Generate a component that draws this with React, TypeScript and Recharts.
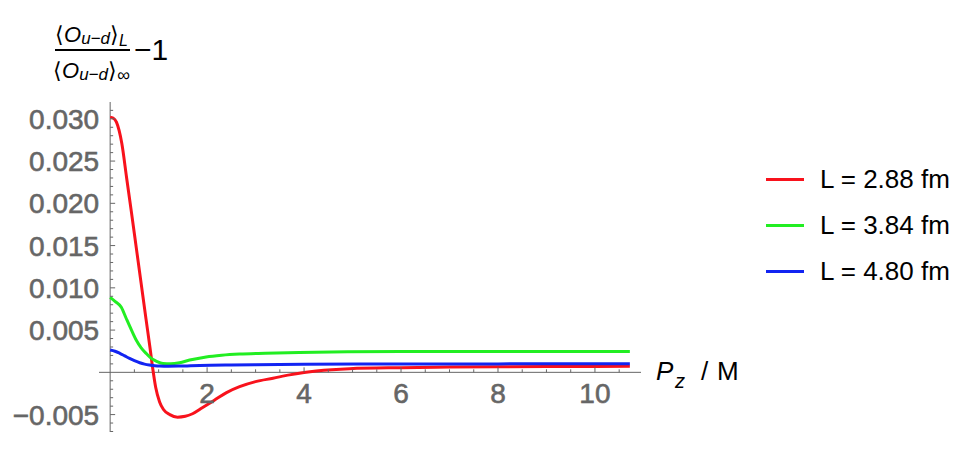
import React from 'react';
import { LineChart, Line, XAxis, YAxis, ReferenceLine } from 'recharts';

// P_z / M sample points and the ratio - 1 for each lattice size
const redPz = [0, 0.06, 0.13, 0.24, 0.34, 0.44, 0.54, 0.64, 0.74, 0.82, 0.88, 0.94, 1.02, 1.1, 1.23, 1.39, 1.55, 1.7, 1.9, 2.15, 2.4, 2.67, 3.0, 3.36, 3.7, 4.0, 4.25, 4.94, 6, 7, 8, 9, 10, 10.72];
const redVal = [0.0302, 0.0301, 0.0296, 0.0271, 0.023, 0.0189, 0.0147, 0.0105, 0.0063, 0.003, 0.0004, -0.0018, -0.0035, -0.0044, -0.005, -0.0053, -0.0052, -0.0049, -0.0042, -0.0033, -0.0024, -0.0017, -0.0011, -0.0007, -0.0003, -0.00003, 0.00015, 0.00043, 0.00055, 0.00062, 0.00066, 0.00068, 0.0007, 0.00071];

const greenPz = [0, 0.1, 0.23, 0.33, 0.44, 0.54, 0.64, 0.75, 0.85, 0.95, 1.09, 1.25, 1.43, 1.64, 1.98, 2.3, 2.67, 3.2, 3.9, 4.9, 6, 8, 10.72];
const greenVal = [0.00887, 0.0084, 0.0077, 0.0064, 0.005, 0.0038, 0.0029, 0.0022, 0.00165, 0.00133, 0.00104, 0.00102, 0.00114, 0.00145, 0.00182, 0.00202, 0.00216, 0.00225, 0.00234, 0.00243, 0.00246, 0.00247, 0.00246];

const bluePz = [0, 0.1, 0.2, 0.3, 0.4, 0.5, 0.61, 0.71, 0.81, 0.92, 1.02, 1.2, 1.43, 1.85, 2.5, 3, 4, 6, 8, 10.72];
const blueVal = [0.00264, 0.0025, 0.00225, 0.00195, 0.00165, 0.00138, 0.00114, 0.00097, 0.00086, 0.00078, 0.00074, 0.00072, 0.00074, 0.00082, 0.00088, 0.00091, 0.00095, 0.00099, 0.001, 0.00102];

const SERIES = [
  { name: 'L = 2.88 fm', color: '#f8121c', pz: redPz, val: redVal },
  { name: 'L = 3.84 fm', color: '#22ee22', pz: greenPz, val: greenVal },
  { name: 'L = 4.80 fm', color: '#1224f2', pz: bluePz, val: blueVal },
];

const X_TICKS = [0.5, 1, 1.5, 2, 2.5, 3, 3.5, 4, 4.5, 5, 5.5, 6, 6.5, 7, 7.5, 8, 8.5, 9, 9.5, 10, 10.5];
const X_LABELS = [2, 4, 6, 8, 10];
const Y_TICKS = [
  -0.007, -0.006, -0.005, -0.004, -0.003, -0.002, -0.001, 0.001, 0.002, 0.003, 0.004, 0.005,
  0.006, 0.007, 0.008, 0.009, 0.01, 0.011, 0.012, 0.013, 0.014, 0.015, 0.016, 0.017, 0.018,
  0.019, 0.02, 0.021, 0.022, 0.023, 0.024, 0.025, 0.026, 0.027, 0.028, 0.029, 0.03, 0.031,
];
const Y_LABELS = [-0.005, 0.005, 0.01, 0.015, 0.02, 0.025, 0.03];

const W = 970;
const H = 450;
const Y_AXIS_W = 60;
const X_AXIS_H = 18;
const MARGIN = { top: 102, right: 329, bottom: 0, left: 99 - Y_AXIS_W };
const X_MIN = -0.23;
const X_MAX = 10.95;
const Y_MIN = -0.00706;
const Y_MAX = 0.03199;

const AXIS = '#666';
const FONT = '"Liberation Sans", Arial, Helvetica, sans-serif';

// pixel position of the axes crossing (x = 0, y = 0)
const plotLeft = MARGIN.left + Y_AXIS_W;
const plotW = W - plotLeft - MARGIN.right;
const plotH = H - MARGIN.top - MARGIN.bottom - X_AXIS_H;
const zeroX = plotLeft + (plotW * (0 - X_MIN)) / (X_MAX - X_MIN);
const zeroY = MARGIN.top + (plotH * Y_MAX) / (Y_MAX - Y_MIN);

const labelStyle = {
  fill: AXIS,
  stroke: AXIS,
  strokeWidth: 0.6,
  fontSize: 28,
  fontFamily: FONT,
};

function XTick(props: any) {
  const { x, payload } = props;
  const major = X_LABELS.includes(payload.value);
  return (
    <g>
      <line x1={x} x2={x} y1={zeroY} y2={zeroY - (major ? 5 : 3)} stroke={AXIS} />
      {major && (
        <text x={x} y={zeroY + 31} textAnchor="middle" {...labelStyle}>
          {payload.value}
        </text>
      )}
    </g>
  );
}

function YTick(props: any) {
  const { y, payload } = props;
  const major = Y_LABELS.includes(payload.value);
  const label = payload.value.toFixed(3).replace('-', '\u2212');
  return (
    <g>
      <line x1={zeroX} x2={zeroX + (major ? 5 : 3)} y1={y} y2={y} stroke={AXIS} />
      {major && (
        <text x={zeroX - 11} y={y + 10} textAnchor="end" {...labelStyle}>
          {label}
        </text>
      )}
    </g>
  );
}

export default function App() {
  return (
    <div style={{ position: 'absolute', left: 0, top: 0, width: W, height: H, background: '#fff' }}>
      <LineChart width={W} height={H} margin={MARGIN}>
        <XAxis
          type="number"
          dataKey="x"
          domain={[X_MIN, X_MAX]}
          allowDataOverflow
          ticks={X_TICKS}
          interval={0}
          axisLine={false}
          tickLine={false}
          height={X_AXIS_H}
          tick={<XTick />}
        />
        <YAxis
          type="number"
          domain={[Y_MIN, Y_MAX]}
          allowDataOverflow
          ticks={Y_TICKS}
          interval={0}
          axisLine={false}
          tickLine={false}
          width={Y_AXIS_W}
          tick={<YTick />}
        />
        <ReferenceLine y={0} stroke={AXIS} />
        <ReferenceLine x={0} stroke={AXIS} />
        {SERIES.map((s) => (
          <Line
            key={s.name}
            name={s.name}
            data={s.pz.map((x, i) => ({ x, y: s.val[i] }))}
            dataKey="y"
            type="monotone"
            stroke={s.color}
            strokeWidth={3}
            dot={false}
            isAnimationActive={false}
          />
        ))}
      </LineChart>

      <svg
        width={W}
        height={H}
        style={{ position: 'absolute', left: 0, top: 0, pointerEvents: 'none' }}
        fontFamily={FONT}
      >
        {/* y axis label: <O_{u-d}>_L / <O_{u-d}>_inf - 1 */}
        <text x={55} y={42} fontSize={22} fill="#000">
          <tspan>⟨</tspan>
          <tspan fontStyle="italic">O</tspan>
          <tspan fontStyle="italic" fontSize={17} dy={2}>u−d</tspan>
          <tspan dy={-2}>⟩</tspan>
          <tspan fontStyle="italic" fontSize={16} dy={4}>L</tspan>
        </text>
        <line x1={55} x2={130} y1={50} y2={50} stroke="#000" strokeWidth={2} />
        <text x={53} y={78} fontSize={22} fill="#000">
          <tspan>⟨</tspan>
          <tspan fontStyle="italic">O</tspan>
          <tspan fontStyle="italic" fontSize={17} dy={2}>u−d</tspan>
          <tspan dy={-2}>⟩</tspan>
          <tspan fontStyle="italic" fontSize={18} dy={3}>∞</tspan>
        </text>
        <text x={134} y={60} fontSize={30} fill="#000">−1</text>

        {/* x axis label */}
        <text x={656} y={380} fontSize={26} fontStyle="italic" fill="#000">P</text>
        <text x={675} y={388} fontSize={20} fontStyle="italic" fill="#000">z</text>
        <text x={701} y={380} fontSize={26} fill="#000">/</text>
        <text x={717} y={380} fontSize={26} fill="#000">M</text>
      </svg>

      <div style={{ position: 'absolute', left: 766, top: 157, fontFamily: FONT }}>
        {SERIES.map((s) => (
          <div key={s.name} style={{ display: 'flex', alignItems: 'center', height: 45.7 }}>
            <div style={{ width: 38, height: 3, background: s.color, marginRight: 16 }} />
            <span style={{ fontSize: 26, color: '#000' }}>{s.name}</span>
          </div>
        ))}
      </div>
    </div>
  );
}
